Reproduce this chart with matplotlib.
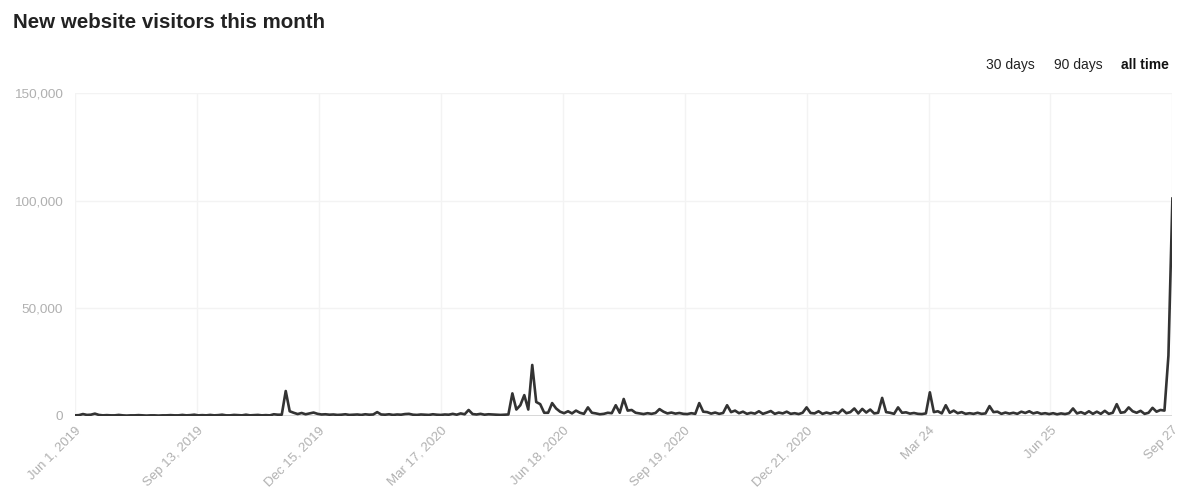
import matplotlib

matplotlib.use("Agg")
import matplotlib.pyplot as plt
import numpy as np

plt.rcParams["font.family"] = ["Liberation Sans", "DejaVu Sans"]

# new visitors (thousands), one point per ~3 days, Jun 1 2019 -> Sep 27 2021
visitors_2019 = [
    0.3, 0.4, 0.9, 0.5, 0.6, 1.1, 0.5, 0.3, 0.4, 0.3, 0.3, 0.5, 0.3, 0.2, 0.3, 0.3,
    0.4, 0.3, 0.2, 0.3, 0.3, 0.2, 0.3, 0.3, 0.4, 0.3, 0.3, 0.5, 0.3, 0.4, 0.6, 0.3,
    0.4, 0.3, 0.5, 0.3, 0.4, 0.6, 0.3, 0.3, 0.5, 0.4, 0.3, 0.6, 0.3, 0.4, 0.5, 0.3,
    0.4, 0.3, 0.8, 0.6,
    # december spike
    0.6, 11.6, 2.2, 1.5, 0.9, 1.4, 0.8, 1.2, 1.6, 1.0, 0.7, 0.8, 0.6, 0.7, 0.5, 0.6,
    0.8, 0.5, 0.6, 0.7, 0.5, 0.8, 0.6, 0.7, 1.8, 0.7, 0.6, 0.8, 0.5, 0.7, 0.6, 0.9,
    1.0, 0.6, 0.5, 0.7, 0.6, 0.5, 0.8, 0.6, 0.5, 0.7, 0.6, 1.0, 0.6, 1.2, 0.8, 2.8,
    0.9, 0.7, 1.0, 0.6, 0.8, 0.7, 0.6, 0.5, 0.6, 0.7,
]
visitors_2020 = [
    10.5, 3.0, 5.0, 9.7, 3.0, 23.7, 6.5, 5.5, 1.5, 1.5, 6.0, 3.5, 2.0, 1.3, 2.2, 1.2,
    2.5, 1.5, 1.0, 4.0, 1.5, 1.2, 0.8, 1.0, 1.5, 1.3, 5.0, 1.5, 7.9, 2.5, 2.8, 1.5,
    1.2, 0.9, 1.3, 1.0, 1.4, 3.2, 2.0, 1.2, 1.6, 1.1, 1.4, 1.0, 0.9, 1.3, 1.0, 6.0,
    2.0, 1.8, 1.1, 1.6, 1.0, 1.4, 5.0, 1.8, 2.5, 1.3, 2.0, 1.0, 1.5, 1.1, 2.2, 1.0,
    1.6, 2.3, 1.0, 1.6, 1.2, 2.0, 1.0, 1.3, 0.9, 1.5, 4.0, 1.4, 1.2, 2.2, 1.0, 1.6,
    1.1, 1.8, 1.2, 3.0, 1.3, 1.8, 3.5, 1.2, 3.3, 1.6, 3.0, 1.2, 1.5, 8.4, 1.8, 1.5,
    1.0, 4.0, 1.5, 1.7, 1.1, 1.4, 1.0, 0.9, 1.2,
]
visitors_2021 = [
    11.0, 1.8, 2.2, 1.2, 5.0, 1.5, 2.5, 1.3, 1.8, 1.0, 1.3, 1.0, 1.5, 1.0, 1.2, 4.6,
    1.8, 2.0, 1.0, 1.6, 1.1, 1.5, 1.0, 2.0, 1.4, 2.2, 1.2, 1.7, 1.0, 1.3, 0.9, 1.3,
    0.8, 1.2, 0.9, 1.3, 3.5, 1.2, 1.8, 1.0, 2.2, 1.0, 2.0, 1.0, 2.4, 1.0, 1.5, 5.5,
    1.5, 1.8, 4.0, 2.2, 1.5, 2.4, 1.0, 1.5, 3.8, 2.0, 2.8, 2.5, 28.0, 101.0,
]
visitors = np.array(visitors_2019 + visitors_2020 + visitors_2021) * 1000

tick_labels = ["Jun 1, 2019", "Sep 13, 2019", "Dec 15, 2019", "Mar 17, 2020",
               "Jun 18, 2020", "Sep 19, 2020", "Dec 21, 2020", "Mar 24", "Jun 25", "Sep 27"]
y_ticks = [0, 50000, 100000, 150000]

GREY = "#b0b0b0"

fig = plt.figure(figsize=(12, 4.95), dpi=100)
ax = fig.add_axes([0.0625, 0.1596, 0.9145, 0.6525])

x = np.arange(len(visitors))
ax.plot(x, visitors, color="#333333", lw=1.9, solid_joinstyle="round", zorder=3)
ax.axhline(0, color="#d4d4d4", lw=2.0, zorder=2)

ax.set_xlim(0, len(visitors) - 1)
ax.set_ylim(0, 150000)
ax.set_xticks(np.linspace(0, len(visitors) - 1, len(tick_labels)))
ax.set_xticklabels(tick_labels, rotation=45, ha="right", rotation_mode="anchor",
                   color=GREY, fontsize=9.5)
ax.set_yticks(y_ticks)
ax.set_yticklabels([f"{v:,}" for v in y_ticks], color=GREY, fontsize=9.7)
ax.tick_params(axis="x", length=0, pad=6)
ax.tick_params(axis="y", length=0, pad=9)
ax.grid(True, color="#f3f3f3", lw=1.0, zorder=0)
for s in ax.spines.values():
    s.set_visible(False)

fig.text(13 / 1200, 1 - 22 / 495, "New website visitors this month",
         fontsize=14.8, fontweight="bold", color="#222222", va="center")
fig.text(1035 / 1200, 1 - 65 / 495, "30 days", fontsize=10, color="#222222",
         ha="right", va="center")
fig.text(1103 / 1200, 1 - 65 / 495, "90 days", fontsize=10, color="#222222",
         ha="right", va="center")
fig.text(1169 / 1200, 1 - 65 / 495, "all time", fontsize=10, color="#111111",
         fontweight="bold", ha="right", va="center")

fig.savefig("out.png", dpi=100)
